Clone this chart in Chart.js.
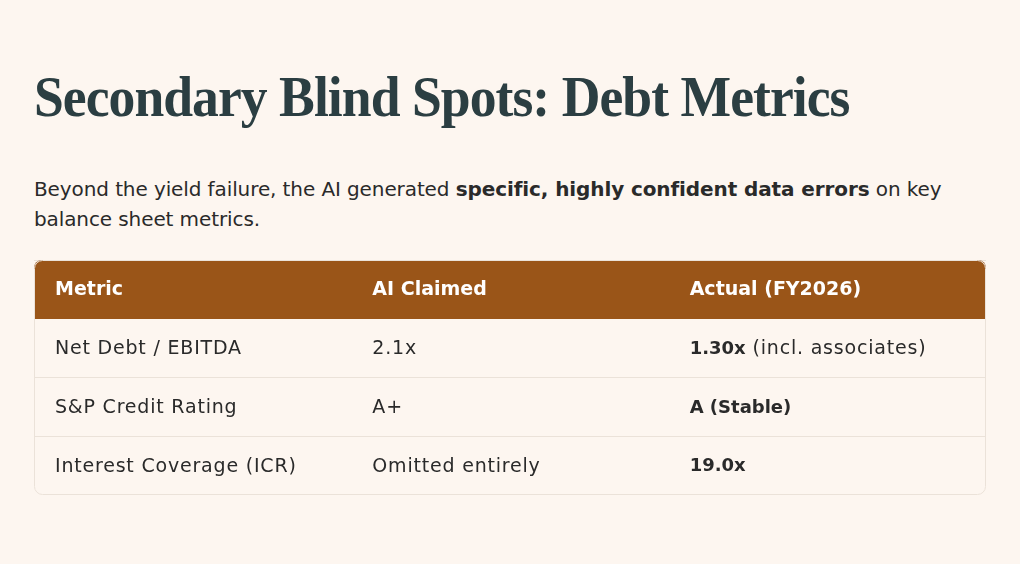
<!DOCTYPE html>
<html>
<head>
<meta charset="utf-8">
<script src="https://cdn.jsdelivr.net/npm/chart.js@4.4.1/dist/chart.umd.min.js"></script>
<style>
  html, body { margin: 0; padding: 0; background: #fdf6f0; }
  body { width: 1020px; height: 564px; position: relative; overflow: hidden; }
  h1 {
    position: absolute; left: 34px; top: 62px; margin: 0;
    font-family: "Liberation Serif", serif; font-weight: bold;
    font-size: 57px; line-height: 70px; color: #2b3e42; letter-spacing: -1px;
    white-space: nowrap; transform: scaleX(0.94); transform-origin: 0 0;
  }
  p {
    position: absolute; left: 34px; top: 174px; margin: 0;
    font-family: "DejaVu Sans", sans-serif; font-size: 20px; line-height: 30px;
    color: #2a2a2a; white-space: nowrap; letter-spacing: -0.1px;
  }
  p b { font-weight: 700; }
  #wrap { position: absolute; left: 34px; top: 260px; width: 952px; height: 235px; }
</style>
</head>
<body>
<h1>Secondary Blind Spots: Debt Metrics</h1>
<p>Beyond the yield failure, the AI generated <b>specific, highly confident data errors</b> on key<br>balance sheet metrics.</p>
<div id="wrap"><canvas id="table1"></canvas></div>
<script>
// Table contents
const headers = ['Metric', 'AI Claimed', 'Actual (FY2026)'];
const metrics = ['Net Debt / EBITDA', 'S&P Credit Rating', 'Interest Coverage (ICR)'];
const aiClaimed = ['2.1x', 'A+', 'Omitted entirely'];
const actualBold = ['1.30x', 'A (Stable)', '19.0x'];
const actualNote = [' (incl. associates)', '', ''];

const rowLabels = ['header'].concat(metrics);
const headerColor = '#9a5518';
const lineColor = '#ebe2d9';
const textFont = '"DejaVu Sans", sans-serif';

// clip everything inside the rounded table outline
const roundClip = {
  id: 'roundClip',
  beforeDatasetsDraw(chart) {
    const a = chart.chartArea;
    chart.ctx.save();
    chart.ctx.beginPath();
    chart.ctx.roundRect(a.left, a.top, a.right - a.left, a.bottom - a.top, 8);
    chart.ctx.clip();
  },
  afterDatasetsDraw(chart) {
    chart.ctx.restore();
  }
};

const cellText = {
  id: 'cellText',
  afterDraw(chart) {
    const ctx = chart.ctx;
    const x = chart.scales.x, y = chart.scales.y;
    ctx.save();
    ctx.textBaseline = 'middle';
    ctx.textAlign = 'left';
    // header
    ctx.fillStyle = '#ffffff';
    ctx.font = '700 19px ' + textFont;
    ctx.letterSpacing = '0px';
    headers.forEach(function(h, c) {
      ctx.fillText(h, x.getPixelForValue(c) + 21, y.getPixelForValue(0) + 1);
    });
    for (let i = 0; i < metrics.length; i++) {
      const py = y.getPixelForValue(i + 1) + 1;
      ctx.fillStyle = '#2a2a2a';
      ctx.font = '400 19px ' + textFont;
      ctx.letterSpacing = '0.8px';
      ctx.fillText(metrics[i], x.getPixelForValue(0) + 21, py);
      ctx.fillText(aiClaimed[i], x.getPixelForValue(1) + 21, py);
      ctx.font = '700 18px ' + textFont;
      ctx.letterSpacing = '0px';
      const x3 = x.getPixelForValue(2) + 21;
      ctx.fillText(actualBold[i], x3, py);
      const w = ctx.measureText(actualBold[i]).width;
      ctx.font = '400 19px ' + textFont;
      ctx.letterSpacing = '0.8px';
      ctx.fillText(actualNote[i], x3 + w, py);
    }
    // outer border
    const a = chart.chartArea;
    ctx.strokeStyle = lineColor;
    ctx.lineWidth = 1;
    ctx.beginPath();
    ctx.roundRect(a.left + 0.5, a.top + 0.5, a.right - a.left - 1, a.bottom - a.top - 1, 8);
    ctx.stroke();
    ctx.restore();
  }
};

new Chart(document.getElementById('table1'), {
  type: 'bar',
  data: {
    labels: rowLabels,
    datasets: [{
      data: [[0, 3], null, null, null],
      backgroundColor: headerColor,
      borderSkipped: false,
      borderRadius: 0,
      barPercentage: 1,
      categoryPercentage: 1
    }]
  },
  options: {
    indexAxis: 'y',
    responsive: true,
    maintainAspectRatio: false,
    animation: false,
    layout: { padding: 0 },
    plugins: { legend: { display: false }, tooltip: { enabled: false } },
    scales: {
      x: { type: 'linear', min: 0, max: 3, display: false },
      y: {
        type: 'category',
        display: true,
        ticks: { display: false },
        border: { display: false },
        grid: { offset: true, color: lineColor, drawTicks: false },
        afterFit: function(s) { s.width = 0; }
      }
    }
  },
  plugins: [roundClip, cellText]
});
</script>
</body>
</html>
